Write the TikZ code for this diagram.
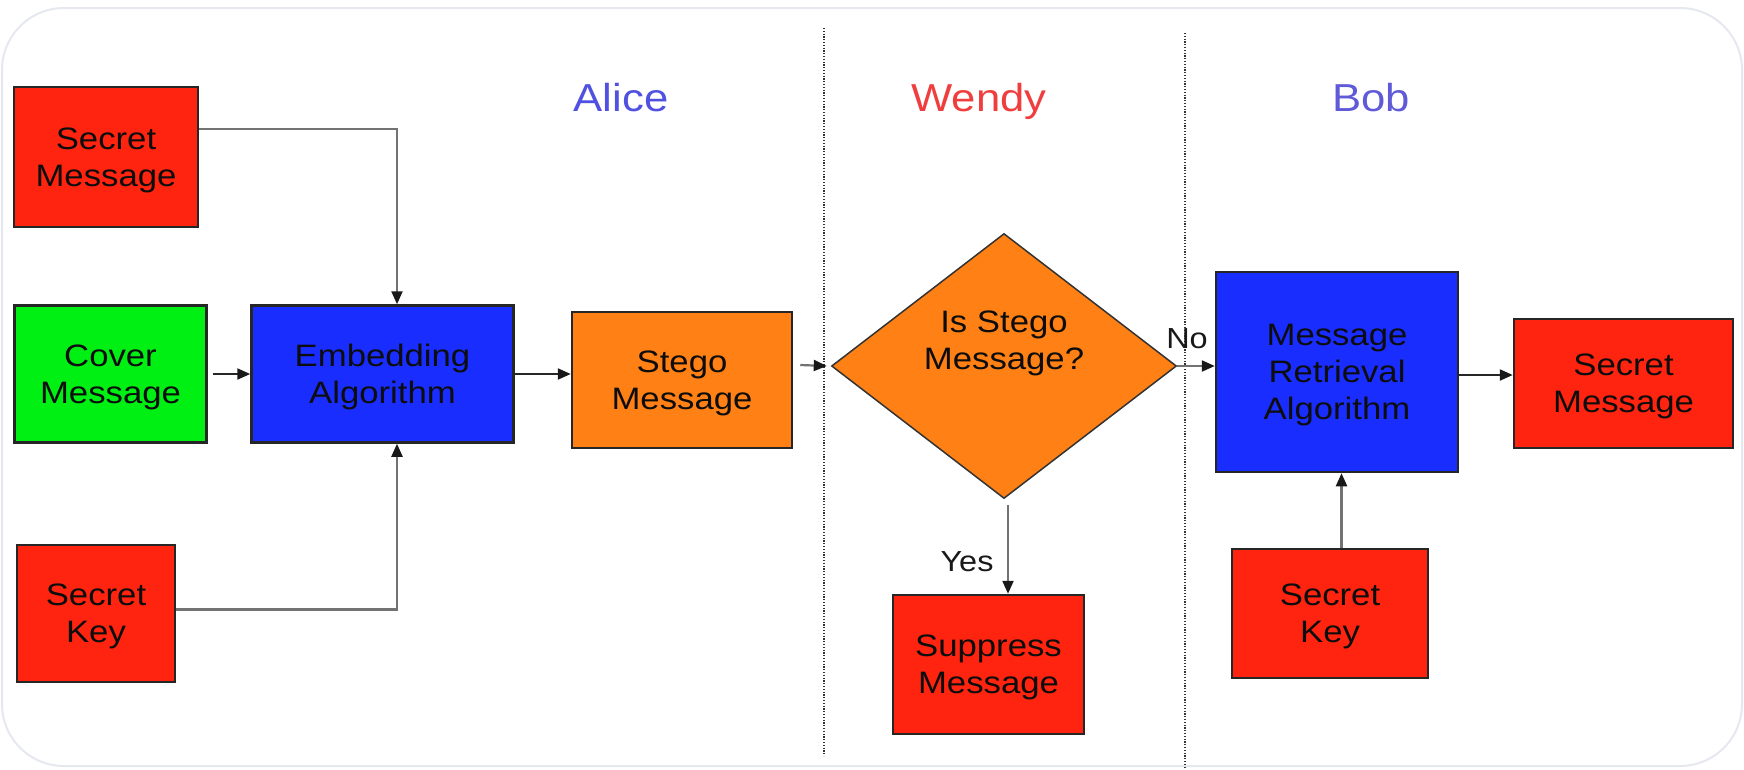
\documentclass[tikz,border=0pt]{standalone}
\usepackage{fontspec}
\setmainfont{Liberation Sans}[FakeStretch=1.12]
\usetikzlibrary{shapes.geometric,arrows.meta}
\definecolor{cred}{RGB}{255,36,16}
\definecolor{cgreen}{RGB}{0,240,20}
\definecolor{cblue}{RGB}{25,45,255}
\definecolor{corange}{RGB}{255,128,20}
\definecolor{calice}{RGB}{80,80,225}
\definecolor{cwendy}{RGB}{240,62,62}
\definecolor{cbob}{RGB}{95,90,215}
\definecolor{cframe}{RGB}{230,232,240}
\tikzset{
  boxn/.style={draw=black!85, line width=2.5pt, text=black!95, align=center, inner sep=0pt,
    text depth=-4pt, font=\fontsize{31}{37}\selectfont},
  party/.style={anchor=base, font=\fontsize{39}{45}\selectfont},
  lbl/.style={anchor=base, text=black!90, font=\fontsize{29}{34}\selectfont},
  garr/.style={draw=black!55, line width=2.2pt, -{Triangle[length=13pt,width=11pt,color=black!90]}},
  darr/.style={draw=black!85, line width=2.2pt, -{Triangle[length=13pt,width=11pt,color=black!90]}},
  sep/.style={draw=black!80, line width=2pt, dash pattern=on 1.2pt off 1.6pt}
}
\begin{document}
\begin{tikzpicture}[x=1pt,y=-1pt]
\useasboundingbox (0,0) rectangle (1744,769);
\draw[cframe, line width=2pt, rounded corners=62pt] (2,8) rectangle (1742,766);

% separators
\draw[sep] (824,28) -- (824,756);
\draw[sep] (1185,33) -- (1185,767);

% party labels
\node[party, text=calice] (alice) at (621,111) {Alice};
\node[party, text=cwendy] (wendy) at (979,111) {Wendy};
\node[party, text=cbob] (bob) at (1371,111) {Bob};

% Alice side
\node[boxn, fill=cred, minimum width=184pt, minimum height=140pt] (sm1) at (106,157) {Secret\\Message};
\node[boxn, fill=cgreen, minimum width=192pt, minimum height=137pt] (cover) at (110.5,374) {Cover\\Message};
\node[boxn, fill=cblue, minimum width=262pt, minimum height=137pt] (emb) at (382.5,374) {Embedding\\Algorithm};
\node[boxn, fill=cred, minimum width=158pt, minimum height=137pt] (key1) at (96,613.5) {Secret\\Key};
\node[boxn, fill=corange, minimum width=220pt, minimum height=136pt] (stego) at (682,380) {Stego\\Message};

% Wendy
\node[diamond, draw=black!80, line width=1.5pt, fill=corange, inner sep=0pt,
      minimum width=345pt, minimum height=265pt] (dec) at (1004,366) {};
\node[align=center, text=black!95, font=\fontsize{31}{37}\selectfont] (dectxt) at (1004,343) {Is Stego\\Message?};
\node[boxn, fill=cred, minimum width=191pt, minimum height=139pt] (supp) at (988.5,664.5) {Suppress\\Message};

% Bob
\node[boxn, fill=cblue, minimum width=242pt, minimum height=200pt] (retr) at (1337,372) {Message\\Retrieval\\Algorithm};
\node[boxn, fill=cred, minimum width=219pt, minimum height=129pt] (sm2) at (1623.5,383.5) {Secret\\Message};
\node[boxn, fill=cred, minimum width=196pt, minimum height=129pt] (key2) at (1330,613.5) {Secret\\Key};

% labels
\node[lbl] (no) at (1187,348) {No};
\node[lbl] (yes) at (967,571) {Yes};

% connectors
\draw[garr] ([yshift=28pt]sm1.east) -| ([xshift=14.5pt]emb.north);
\draw[garr] ([yshift=4pt]key1.east) -| ([xshift=14.5pt]emb.south);
\draw[darr, shorten <=5pt] (cover.east) -- (emb.west);
\draw[darr] (emb.east) -- (emb.east -| stego.west);
\coordinate (st0) at ([xshift=7pt,yshift=15pt]stego.east);
\draw[garr] (st0) -- ([xshift=-4pt]dec.west);
\draw[garr] (dec.east) -- (dec.east -| retr.west);
\coordinate (ys) at ([xshift=4pt,yshift=-6pt]dec.south);
\draw[garr] (ys) -- (ys |- supp.north);
\draw[darr] ([yshift=-3pt]retr.east) -- ([yshift=-3pt]retr.east -| sm2.west);
\draw[garr] ([xshift=11.5pt]key2.north) -- ([xshift=11.5pt]key2.north |- retr.south);
\end{tikzpicture}
\end{document}
